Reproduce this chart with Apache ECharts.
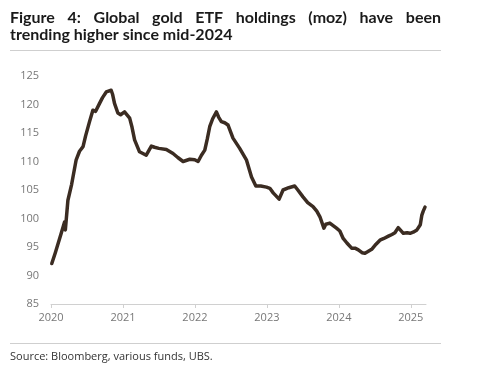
<!DOCTYPE html>
<html><head><meta charset="utf-8">
<script src="https://cdn.jsdelivr.net/npm/echarts@6/dist/echarts.min.js"></script>
<style>html,body{margin:0;padding:0;background:#fff}#c{width:478px;height:371px}</style>
</head><body><div id="c"></div>
<script>
const titleLine1 = "Figure 4: Global gold ETF holdings (moz) have been";
const titleLine2 = "trending higher since mid-2024";
const sourceText = "Source: Bloomberg, various funds, UBS.";
const yearTicks = [2020, 2021, 2022, 2023, 2024, 2025];
const yTicks = [85, 90, 95, 100, 105, 110, 115, 120, 125];
const dates = [
"2020-01-05","2020-01-23","2020-02-22","2020-03-10","2020-03-14","2020-03-27","2020-04-15","2020-05-08","2020-05-25","2020-06-12",
"2020-06-25","2020-07-15","2020-08-01","2020-08-15","2020-09-04","2020-09-19","2020-10-08","2020-11-02","2020-11-09","2020-11-19",
"2020-12-06","2020-12-20","2021-01-09","2021-01-19","2021-02-04","2021-02-16","2021-03-01","2021-03-26","2021-04-29","2021-05-25",
"2021-06-10","2021-07-02","2021-08-09","2021-09-12","2021-10-06","2021-11-02","2021-12-06","2021-12-31","2022-01-17","2022-02-03",
"2022-02-20","2022-03-05","2022-03-17","2022-04-01","2022-04-20","2022-05-01","2022-05-15","2022-06-01","2022-06-18","2022-07-13",
"2022-08-16","2022-09-19","2022-10-15","2022-11-06","2022-12-01","2022-12-30","2023-01-16","2023-02-02","2023-03-04","2023-03-24",
"2023-04-22","2023-05-22","2023-06-07","2023-07-03","2023-07-27","2023-08-23","2023-09-11","2023-09-27","2023-10-17","2023-10-27",
"2023-11-16","2023-11-26","2023-12-20","2024-01-06","2024-01-23","2024-02-11","2024-03-06","2024-03-23","2024-04-09","2024-04-28",
"2024-05-13","2024-05-28","2024-06-16","2024-07-08","2024-07-28","2024-08-17","2024-09-09","2024-09-27","2024-10-12","2024-10-29",
"2024-11-07","2024-11-24","2024-12-13","2024-12-28","2025-01-13","2025-02-01","2025-02-18","2025-02-26","2025-03-05","2025-03-14"
];
const holdings = [
92.1,94.0,97.4,99.4,98.0,103.2,106.0,110.3,111.8,112.6,
114.5,117.0,119.0,118.8,120.2,121.2,122.2,122.5,121.8,120.2,
118.5,118.2,118.7,118.6,117.6,116.0,113.8,111.7,111.1,112.7,
112.5,112.3,112.1,111.4,110.7,110.0,110.4,110.3,110.0,111.1,
112.0,114.0,116.1,117.5,118.7,117.8,117.0,116.8,116.4,114.1,
112.3,110.3,107.3,105.7,105.7,105.5,105.3,104.5,103.4,105.0,
105.4,105.7,105.0,103.8,102.8,102.1,101.3,100.3,98.3,99.0,
99.2,99.3,98.3,97.8,96.5,95.7,94.8,94.8,94.5,94.0,
93.9,94.2,94.6,95.5,96.2,96.5,96.9,97.2,97.5,98.4,
98.1,97.4,97.5,97.4,97.6,98.0,98.9,100.6,101.3,102.0
];
const axisStart = 2020, axisEnd = "2025-03-19";

function toYear(s){
  const d = new Date(s + "T00:00:00Z");
  const y = d.getUTCFullYear();
  const a = Date.UTC(y,0,1), b = Date.UTC(y+1,0,1);
  return y + (d.getTime()-a)/(b-a);
}
const seriesData = dates.map((d,i)=>[toYear(d), holdings[i]]);

const chart = echarts.init(document.getElementById('c'), null, {renderer:'canvas'});

const titleFont = 'bold 16px Lato';
const cv = document.createElement('canvas').getContext('2d');
cv.font = titleFont;
const words = titleLine1.split(' ');
const left = 10, right = 441;
const widths = words.map(w=>cv.measureText(w).width);
const total = widths.reduce((a,b)=>a+b,0);
const gap = (right-left-total)/(words.length-1);
const graphics = [];
let xx = left;
words.forEach((w,i)=>{
  graphics.push({type:'text', left: xx, top: 10, style:{text:w, font:titleFont, fill:'#1a1a1a'}});
  xx += widths[i] + gap;
});
graphics.push({type:'text', left: 10, top: 27, style:{text:titleLine2, font:titleFont, fill:'#1a1a1a'}});
graphics.push({type:'rect', shape:{x:10,y:50,width:431,height:1}, style:{fill:'#cfcfcf'}});
graphics.push({type:'rect', shape:{x:10,y:343,width:431,height:1}, style:{fill:'#cfcfcf'}});
graphics.push({type:'text', left: 10, top: 351, style:{text:sourceText, font:'11px "Open Sans"', fill:'#333'}});

chart.setOption({
  animation:false,
  graphic: graphics,
  grid:{left:51, right:52, top:76, bottom:67},
  xAxis:{
    type:'value', min:axisStart, max:toYear(axisEnd),
    axisLine:{show:true, lineStyle:{color:'#d0d0d0', width:1}},
    axisTick:{show:true, length:4, lineStyle:{color:'#d0d0d0'}, customValues: yearTicks},
    axisLabel:{color:'#777', fontSize:11, fontFamily:'Open Sans', margin:8, customValues: yearTicks, formatter:v=>String(Math.round(v))},
    splitLine:{show:false}
  },
  yAxis:{
    type:'value', min:85, max:125, interval:5,
    axisLine:{show:false}, axisTick:{show:false}, splitLine:{show:false},
    axisLabel:{color:'#777', fontSize:11, fontFamily:'Open Sans', margin:12}
  },
  series:[{
    type:'line', data:seriesData, showSymbol:false, smooth:false,
    lineStyle:{color:'#3b2c22', width:3.5, join:'round', cap:'round'}
  }]
});
</script></body></html>
